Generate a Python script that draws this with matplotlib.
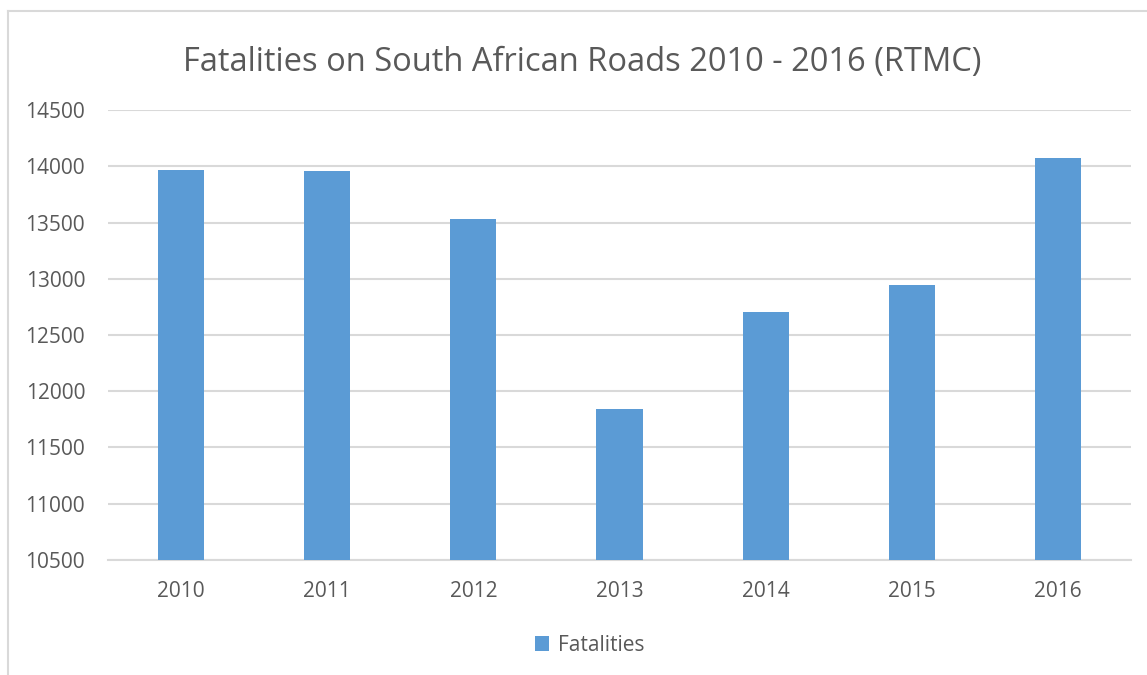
import matplotlib.pyplot as plt

# Data
years = ["2010", "2011", "2012", "2013", "2014", "2015", "2016"]
fatalities = [13967, 13954, 13528, 11844, 12702, 12944, 14071]
yticks = [10500, 11000, 11500, 12000, 12500, 13000, 13500, 14000, 14500]

bar_color = "#5b9bd5"
text_color = "#595959"
grid_color = "#d9d9d9"

plt.rcParams['font.family'] = ['Open Sans', 'DejaVu Sans']

fig = plt.figure(figsize=(11.47, 6.75), dpi=100)
ax = fig.add_axes([0.0942, 0.1704, 0.8918, 0.6666])

ax.bar(years, fatalities, width=0.315, color=bar_color, zorder=3, label="Fatalities")

ax.set_ylim(10500, 14500)
ax.set_xlim(-0.5, len(years) - 0.5)
ax.set_yticks(yticks)
ax.yaxis.grid(True, color=grid_color, linewidth=1.5, zorder=0)
for side in ["top", "right", "left"]:
    ax.spines[side].set_visible(False)
ax.spines["bottom"].set_color(grid_color)
ax.spines["bottom"].set_linewidth(1.5)
ax.tick_params(axis="both", length=0, labelsize=15, labelcolor=text_color)
ax.tick_params(axis="y", pad=16.5)
ax.tick_params(axis="x", pad=15)

fig.suptitle("Fatalities on South African Roads 2010 - 2016 (RTMC)",
             x=0.508, y=0.932, fontsize=23.5, color=text_color)

fig.legend(loc="center", bbox_to_anchor=(0.514, 0.044), frameon=False,
           fontsize=15, handlelength=0.7, handleheight=0.7,
           handletextpad=0.4, labelcolor=text_color)

# outer chart border (left and top)
fig.add_artist(plt.Line2D([0.007, 0.007], [0.0, 0.984], color=grid_color,
                          linewidth=1.5, transform=fig.transFigure))
fig.add_artist(plt.Line2D([0.007, 1.0], [0.984, 0.984], color=grid_color,
                          linewidth=1.5, transform=fig.transFigure))

fig.savefig("out.png", dpi=100)
